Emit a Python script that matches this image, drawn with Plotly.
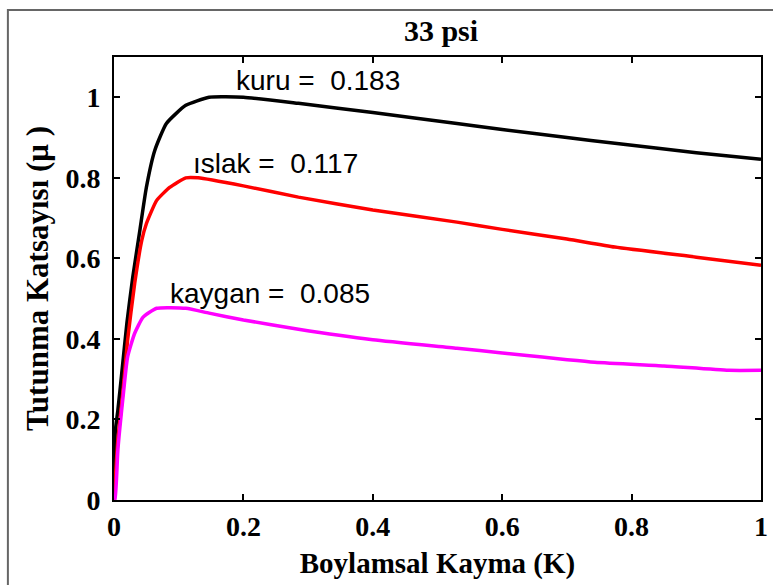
import plotly.graph_objects as go

# --- data ---
kuru_x = [0, 0.002, 0.006, 0.012, 0.020, 0.029, 0.040, 0.050, 0.063, 0.081, 0.111, 0.147,
          0.20, 0.285, 0.40, 0.53, 0.60, 0.70, 0.774, 0.90, 1.00]
kuru_y = [0, 0.17, 0.223, 0.315, 0.44, 0.553, 0.67, 0.776, 0.868, 0.935, 0.98, 1.0,
          1.0, 0.985, 0.962, 0.935, 0.92, 0.90, 0.886, 0.862, 0.846]

islak_x = [0, 0.006, 0.014, 0.021, 0.032, 0.043, 0.050, 0.066, 0.086, 0.111, 0.13,
           0.20, 0.285, 0.40, 0.53, 0.60, 0.70, 0.774, 0.90, 1.00]
islak_y = [0, 0.149, 0.273, 0.397, 0.538, 0.645, 0.686, 0.744, 0.776, 0.80, 0.80,
           0.78, 0.752, 0.72, 0.69, 0.672, 0.648, 0.628, 0.603, 0.583]

kaygan_x = [0, 0.0015, 0.006, 0.014, 0.021, 0.032, 0.045, 0.066, 0.111, 0.147,
            0.20, 0.285, 0.40, 0.53, 0.60, 0.743, 0.85, 0.95, 1.00]
kaygan_y = [0, 0.0, 0.124, 0.256, 0.355, 0.414, 0.454, 0.476, 0.476, 0.464,
            0.447, 0.424, 0.398, 0.377, 0.365, 0.342, 0.333, 0.322, 0.322]

labels = ["kuru", "ıslak", "kaygan"]
values = ["0.183", "0.117", "0.085"]
label_x = [0.185, 0.119, 0.084]
label_y = [1.042, 0.835, 0.512]
colors = ["#000000", "#ff0000", "#ff00ff"]

x_ticks = [0, 0.2, 0.4, 0.6, 0.8, 1]
x_ticktext = ["0", "0.2", "0.4", "0.6", "0.8", "1"]
y_ticks = [0, 0.2, 0.4, 0.6, 0.8, 1]
y_ticktext = ["0", "0.2", "0.4", "0.6", "0.8", "1"]

series = [(kuru_x, kuru_y), (islak_x, islak_y), (kaygan_x, kaygan_y)]

fig = go.Figure()
for (xs, ys), name, c in zip(series, labels, colors):
    fig.add_trace(go.Scatter(x=xs, y=ys, mode="lines", name=name,
                             line=dict(color=c, width=3.5, shape="spline", smoothing=0.5),
                             showlegend=False))

for lab, val, lx, ly in zip(labels, values, label_x, label_y):
    fig.add_annotation(x=lx, y=ly, xref="x", yref="y",
                       text=f"{lab} =\u00a0 {val}", showarrow=False,
                       xanchor="left", yanchor="middle",
                       font=dict(family="Liberation Sans, Arial", size=28, color="#000"))

serif = "Liberation Serif, Times New Roman"
axis_common = dict(showline=True, linecolor="#000", linewidth=2, mirror="ticks",
                   ticks="inside", ticklen=6, tickwidth=1.5, tickcolor="#000",
                   showgrid=False, zeroline=False,
                   tickfont=dict(family=serif, size=28, color="#000", weight="bold"))

fig.update_xaxes(range=[0, 1], tickvals=x_ticks, ticktext=x_ticktext,
                 ticklabelstandoff=0,
                 title=dict(text="Boylamsal Kayma (K)", standoff=12,
                            font=dict(family=serif, size=29, color="#000", weight="bold")),
                 **axis_common)
fig.update_yaxes(range=[0, 1.1], tickvals=y_ticks, ticktext=y_ticktext,
                 ticklabelstandoff=6,
                 title=dict(text="Tutunma Katsayısı (μ )", standoff=8,
                            font=dict(family=serif, size=31, color="#000", weight="bold")),
                 **axis_common)

# figure border (grey frame of the original figure window)
fig.add_shape(type="rect", xref="paper", yref="paper",
              x0=-0.164, x1=1.03, y0=-0.25, y1=1.106,
              line=dict(color="#666666", width=2), fillcolor="rgba(0,0,0,0)", layer="below")

fig.update_layout(
    width=773, height=585,
    margin=dict(l=114, r=5, t=57, b=85),
    paper_bgcolor="#ffffff", plot_bgcolor="#ffffff",
    title=dict(text="33 psi", x=(114 + 768) / 2 / 773, xanchor="center",
               y=1 - 30 / 585, yanchor="middle", yref="container",
               font=dict(family=serif, size=30, color="#000", weight="bold")),
)

fig.write_html("out.html")
